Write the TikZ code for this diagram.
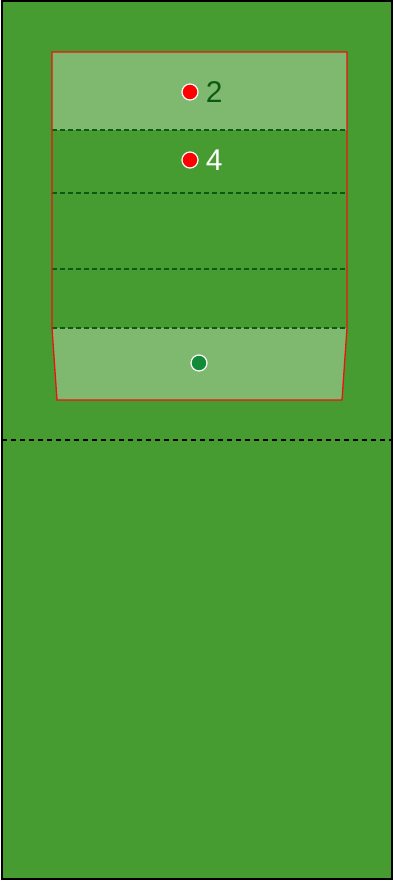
\documentclass[tikz,border=0pt]{standalone}
\usepackage{fontspec}
\setsansfont{Liberation Sans}
\usetikzlibrary{positioning}
\definecolor{cGrass}{HTML}{479C31}
\definecolor{cRed}{HTML}{F01010}
\definecolor{cDark}{HTML}{0F5A12}
\definecolor{cKeeper}{HTML}{128A38}
\tikzset{
  pitch/.style={draw=black, line width=1.4pt, fill=cGrass},
  band/.style={fill=white, fill opacity=0.3},
  zone/.style={draw=cRed, line width=1.3pt, line join=miter},
  split/.style={draw=cDark, line width=1.4pt, dash pattern=on 5pt off 3pt},
  halfway/.style={draw=black, line width=1.4pt, dash pattern=on 5pt off 4pt},
  ball/.style={circle, draw=white, line width=1.2pt, inner sep=0pt, minimum size=16pt},
  num/.style={font=\fontsize{30}{30}\selectfont\sffamily, inner sep=0pt},
}

\begin{document}
\begin{tikzpicture}[x=1pt, y=-1pt]
  \useasboundingbox (0,0) rectangle (394,882);

  % pitch and halfway line
  \draw[pitch] (2,1) rectangle (392,879);
  \draw[halfway] (2,440) -- (392,440);

  % shaded bands
  \fill[band] (52,52) rectangle (347,130);
  \fill[band] (52,328) -- (347,328) -- (342,400) -- (57,400) -- cycle;

  % split lines
  \foreach \yy in {130,193,269,328}
    \draw[split] (52,\yy) -- (347,\yy);

  % zone outline
  \draw[zone] (52,328) -- (52,52) -- (347,52) -- (347,328)
    -- (342,400) -- (57,400) -- cycle;

  % players
  \node[ball, fill=red] (p2) at (190,92) {};
  \node[num, text=cDark, right=7pt of p2] (n2) {2};

  \node[ball, fill=red] (p4) at (190,160) {};
  \node[num, text=white, right=7pt of p4] (n4) {4};

  \node[ball, fill=cKeeper] (gk) at (199,363) {};

\end{tikzpicture}
\end{document}
